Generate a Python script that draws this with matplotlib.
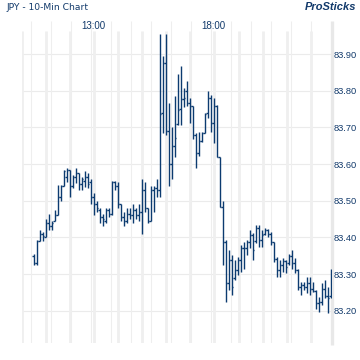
import numpy as np
import matplotlib.pyplot as plt

# 10-min OHLC bars
opens = [
    83.35, 83.33, 83.39, 83.41, 83.40, 83.44, 83.43, 83.445, 83.46, 83.51,
    83.54, 83.565, 83.585, 83.54, 83.565, 83.575, 83.545, 83.555, 83.565, 83.55,
    83.51, 83.49, 83.475, 83.455, 83.445, 83.475, 83.465, 83.55, 83.54, 83.49,
    83.455, 83.445, 83.465, 83.46, 83.475, 83.46, 83.47, 83.53, 83.48, 83.445,
    83.53, 83.535, 83.53, 83.74, 83.876, 83.69, 83.60, 83.65, 83.71, 83.75,
    83.777, 83.80, 83.767, 83.757, 83.68, 83.63, 83.662, 83.685, 83.738, 83.78,
    83.711, 83.758, 83.618, 83.484, 83.388, 83.275, 83.338, 83.29, 83.311, 83.338,
    83.37, 83.37, 83.388, 83.406, 83.39, 83.425, 83.393, 83.41, 83.42, 83.41,
    83.388, 83.34, 83.31, 83.325, 83.335, 83.33, 83.35, 83.33, 83.31, 83.265,
    83.27, 83.265, 83.275, 83.26, 83.255, 83.22, 83.225, 83.26, 83.24, 83.24,
]
highs = [
    83.355, 83.393, 83.42, 83.415, 83.45, 83.465, 83.445, 83.475, 83.543, 83.543,
    83.584, 83.588, 83.585, 83.57, 83.588, 83.575, 83.565, 83.58, 83.575, 83.56,
    83.52, 83.50, 83.48, 83.465, 83.48, 83.48, 83.555, 83.555, 83.55, 83.49,
    83.47, 83.48, 83.48, 83.49, 83.48, 83.49, 83.56, 83.55, 83.48, 83.54,
    83.54, 83.56, 83.955, 83.894, 83.955, 83.766, 83.70, 83.785, 83.846, 83.866,
    83.808, 83.826, 83.78, 83.758, 83.685, 83.688, 83.688, 83.74, 83.80, 83.789,
    83.779, 83.76, 83.618, 83.50, 83.393, 83.365, 83.352, 83.338, 83.347, 83.379,
    83.388, 83.393, 83.42, 83.411, 83.434, 83.434, 83.42, 83.425, 83.422, 83.415,
    83.388, 83.347, 83.338, 83.343, 83.338, 83.356, 83.365, 83.343, 83.315, 83.279,
    83.279, 83.293, 83.293, 83.279, 83.256, 83.238, 83.275, 83.284, 83.265, 83.315,
]
lows = [
    83.325, 83.325, 83.39, 83.39, 83.40, 83.42, 83.42, 83.445, 83.46, 83.50,
    83.54, 83.552, 83.51, 83.534, 83.547, 83.53, 83.53, 83.538, 83.534, 83.49,
    83.46, 83.47, 83.44, 83.43, 83.44, 83.455, 83.46, 83.53, 83.48, 83.445,
    83.43, 83.44, 83.45, 83.44, 83.45, 83.445, 83.41, 83.47, 83.44, 83.445,
    83.47, 83.51, 83.51, 83.685, 83.68, 83.54, 83.56, 83.62, 83.707, 83.707,
    83.755, 83.758, 83.712, 83.668, 83.59, 83.621, 83.66, 83.685, 83.725, 83.688,
    83.657, 83.618, 83.484, 83.325, 83.225, 83.256, 83.243, 83.284, 83.297, 83.306,
    83.315, 83.352, 83.37, 83.338, 83.384, 83.375, 83.375, 83.406, 83.402, 83.379,
    83.334, 83.293, 83.293, 83.306, 83.302, 83.325, 83.315, 83.302, 83.256, 83.243,
    83.256, 83.247, 83.243, 83.252, 83.206, 83.197, 83.215, 83.234, 83.193, 83.235,
]
closes = [
    83.33, 83.39, 83.41, 83.405, 83.44, 83.43, 83.44, 83.46, 83.51, 83.54,
    83.58, 83.585, 83.54, 83.565, 83.575, 83.545, 83.56, 83.565, 83.545, 83.51,
    83.49, 83.48, 83.455, 83.45, 83.475, 83.465, 83.55, 83.54, 83.49, 83.455,
    83.445, 83.465, 83.46, 83.475, 83.46, 83.47, 83.53, 83.48, 83.445, 83.53,
    83.535, 83.53, 83.737, 83.876, 83.69, 83.60, 83.65, 83.67, 83.748, 83.777,
    83.78, 83.767, 83.757, 83.68, 83.63, 83.662, 83.685, 83.737, 83.78, 83.711,
    83.758, 83.618, 83.484, 83.388, 83.275, 83.338, 83.265, 83.311, 83.338, 83.37,
    83.37, 83.388, 83.406, 83.365, 83.425, 83.393, 83.406, 83.42, 83.41, 83.388,
    83.34, 83.31, 83.325, 83.335, 83.32, 83.35, 83.33, 83.31, 83.265, 83.27,
    83.265, 83.275, 83.26, 83.255, 83.22, 83.225, 83.26, 83.24, 83.235, 83.265,
]

price_ticks = [83.20, 83.30, 83.40, 83.50, 83.60, 83.70, 83.80, 83.90]
time_labels = ["13:00", "18:00"]
time_bars = [20, 60]

navy = "#0c3b70"
text_navy = "#123a6b"

x = np.arange(len(opens))
ymin, ymax = 83.112, 83.990

fig = plt.figure(figsize=(3.6, 3.6), dpi=100)
fig.patch.set_facecolor("white")
ax = fig.add_axes([21.7 / 360, 17 / 360, 310 / 360, 322 / 360])
ax.set_xlim(-4, 99.33)
ax.set_ylim(ymin, ymax)
for s in ax.spines.values():
    s.set_visible(False)

# grid: price lines, thin 5-bar lines, wide hour bands, right edge band
for v in price_ticks:
    ax.axhline(v, color="#ebebeb", lw=0.8, zorder=0)
ax.vlines(-1 + np.arange(15) * 20 / 3, ymin, ymax, color="#eeeeee", lw=0.8, zorder=0)
ax.vlines(-4 + np.arange(13) * 8.03, ymin, 83.963, color="#efefef", lw=2.0, zorder=0)
ax.vlines([99.33], ymin - 0.006, ymax, color="#e8e8e8", lw=2.4, zorder=0, clip_on=False)

# OHLC bars
ax.vlines(x, lows, highs, color=navy, lw=1.0, zorder=3)
ax.hlines(opens, x - 0.55, x, color=navy, lw=1.0, zorder=3)
ax.hlines(closes, x, x + 0.55, color=navy, lw=1.0, zorder=3)

# price axis on the right
ax.yaxis.tick_right()
ax.set_yticks(price_ticks)
ax.set_yticklabels([f"{v:.2f}" for v in price_ticks])
ax.tick_params(axis="y", length=0, pad=1.5, labelsize=6.7, labelcolor=text_navy)
for lab in ax.get_yticklabels():
    lab.set_family("Liberation Sans")
ax.set_xticks([])

for pos, lab in zip(time_bars, time_labels):
    ax.text(pos, 83.976, lab, ha="center", va="center", fontsize=7,
            color=text_navy, family="Liberation Sans", zorder=4)

fig.text(6 / 360, 1 - 7.5 / 360, "JPY - 10-Min Chart", ha="left", va="center",
         fontsize=6.6, color=text_navy, family="DejaVu Sans")
fig.text(356 / 360, 1 - 7.5 / 360, "ProSticks", ha="right", va="center",
         fontsize=8, fontweight="bold", fontstyle="italic", color=text_navy,
         family="Liberation Sans")

fig.savefig("out.png", dpi=100)
